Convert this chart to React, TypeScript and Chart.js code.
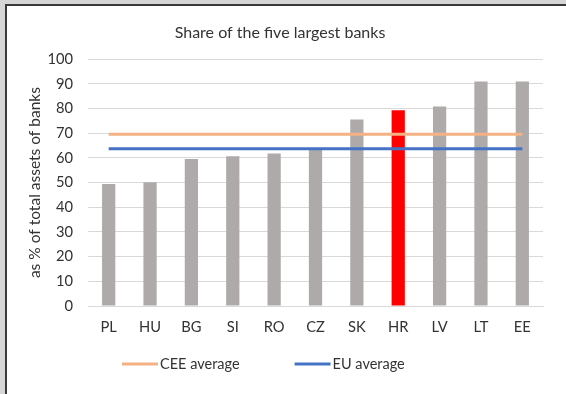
import React, { useEffect, useRef } from "react";
import { Chart, registerables } from "chart.js";

Chart.register(...registerables);

const categories = ["PL", "HU", "BG", "SI", "RO", "CZ", "SK", "HR", "LV", "LT", "EE"];
const shares = [49.4, 50.1, 59.6, 60.7, 61.8, 63.4, 75.6, 79.3, 80.8, 91.0, 91.0];
const ceeAverage = [69.6, 69.6, 69.6, 69.6, 69.6, 69.6, 69.6, 69.6, 69.6, 69.6, 69.6];
const euAverage = [63.7, 63.7, 63.7, 63.7, 63.7, 63.7, 63.7, 63.7, 63.7, 63.7, 63.7];
const highlighted = "HR";

const FONT = "Lato, 'Open Sans', sans-serif";
const TEXT = "#333333";
const GRID = "#d9d9d9";

const legendPlugin = {
  id: "customLegend",
  afterDraw(chart: any) {
    const ctx = chart.ctx;
    ctx.save();
    ctx.font = `14.5px ${FONT}`;
    ctx.textBaseline = "middle";
    ctx.textAlign = "left";
    let x = 115;
    const y = 358;
    chart.data.datasets.forEach((ds: any) => {
      if (ds.type !== "line") return;
      ctx.strokeStyle = ds.borderColor;
      ctx.lineWidth = 3;
      ctx.beginPath();
      ctx.moveTo(x, y);
      ctx.lineTo(x + 36, y);
      ctx.stroke();
      ctx.fillStyle = TEXT;
      ctx.fillText(ds.label, x + 38, y);
      x += 38 + ctx.measureText(ds.label).width + 55;
    });
    ctx.restore();
  },
};

export default function App() {
  const ref = useRef<HTMLCanvasElement | null>(null);
  useEffect(() => {
    if (!ref.current) return;
    const chart = new Chart(ref.current, {
      type: "bar",
      data: {
        labels: categories,
        datasets: [
          {
            type: "line",
            label: "CEE average",
            data: ceeAverage,
            borderColor: "#f4b183",
            backgroundColor: "#f4b183",
            borderWidth: 3,
            pointRadius: 0,
            order: 0,
          } as any,
          {
            type: "line",
            label: "EU average",
            data: euAverage,
            borderColor: "#4472c4",
            backgroundColor: "#4472c4",
            borderWidth: 3,
            pointRadius: 0,
            order: 0,
          } as any,
          {
            type: "bar",
            label: "Share",
            data: shares,
            backgroundColor: categories.map((c) => (c === highlighted ? "#ff0000" : "#aeaaaa")),
            barPercentage: 0.32,
            categoryPercentage: 1,
            order: 1,
          },
        ],
      },
      options: {
        animation: false,
        responsive: false,
        maintainAspectRatio: false,
        layout: { padding: { top: 0, left: 10, right: 23, bottom: 48 } },
        plugins: {
          legend: { display: false },
          tooltip: { enabled: false },
          title: {
            display: true,
            text: "Share of the five largest banks",
            color: TEXT,
            font: { family: FONT, size: 16, weight: "normal" },
            padding: { top: 17, bottom: 17 },
          },
        },
        scales: {
          x: {
            grid: { display: false, drawTicks: false },
            border: { display: true, color: GRID, width: 1 },
            ticks: { color: TEXT, font: { family: FONT, size: 14.7 }, padding: 12, maxRotation: 0 },
            afterFit: (s: any) => {
              s.height = 40;
            },
          },
          y: {
            min: 0,
            max: 100,
            ticks: { stepSize: 10, color: TEXT, font: { family: FONT, size: 14.7 }, padding: 15 },
            grid: { color: GRID, lineWidth: 1, drawTicks: false },
            border: { display: false },
            title: {
              display: true,
              text: "as % of total assets of banks",
              color: TEXT,
              font: { family: FONT, size: 15.5 },
              padding: { top: 9, bottom: 0 },
            },
            afterFit: (s: any) => {
              s.width = 71;
            },
          },
        },
      },
      plugins: [legendPlugin],
    });
    return () => chart.destroy();
  }, []);

  return (
    <div style={{ position: "fixed", left: 0, top: 0, width: 566, height: 394, background: "#d6d6d6", overflow: "hidden" }}>
      <div
        style={{
          position: "absolute",
          left: 5,
          top: 4,
          right: 0,
          bottom: 0,
          background: "#ffffff",
          borderLeft: "2px solid #3a3a3a",
          borderTop: "2px solid #3a3a3a",
        }}
      >
        <canvas ref={ref} width={559} height={388} style={{ display: "block" }} />
      </div>
    </div>
  );
}
